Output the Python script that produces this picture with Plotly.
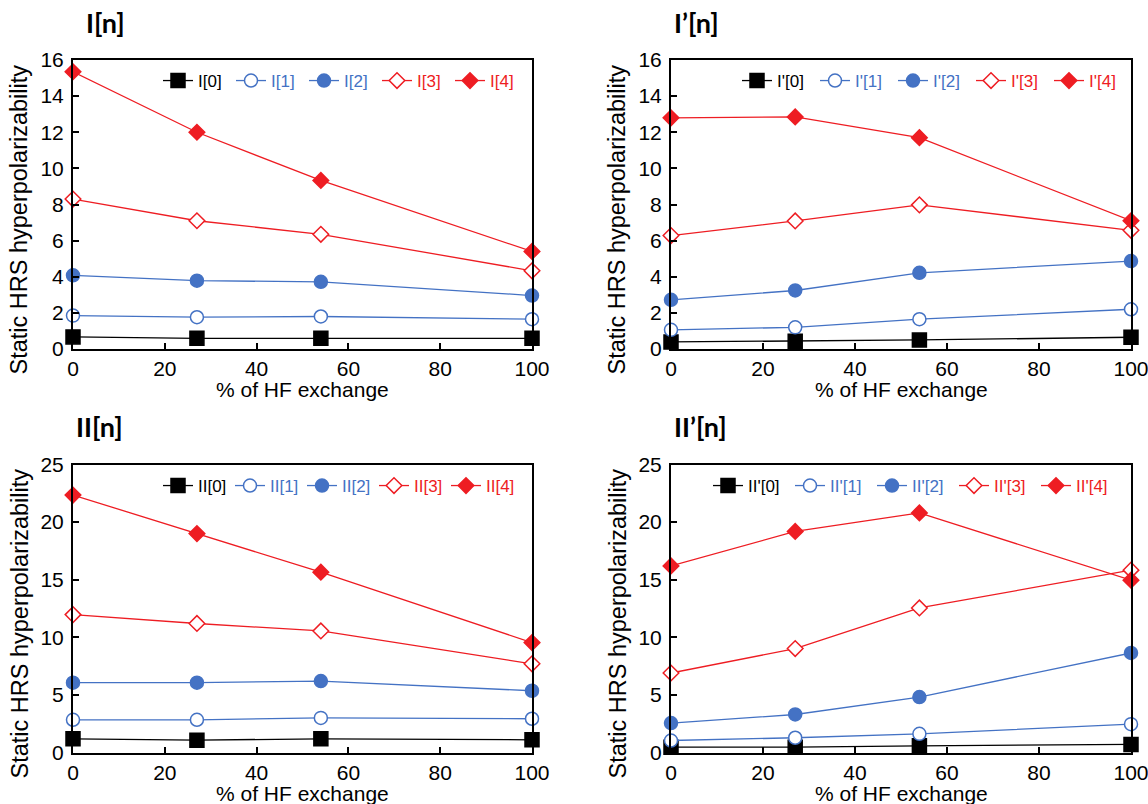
import plotly.graph_objects as go

# -----------------------
# Data
# -----------------------
hf_exchange = [0, 27, 54, 100]          # % of HF exchange (M06-L, M06, M06-2X, M06-HF)
x_ticks = [0, 20, 40, 60, 80, 100]

I_0 = [0.67, 0.59, 0.59, 0.59]
I_1 = [1.85, 1.76, 1.80, 1.65]
I_2 = [4.08, 3.78, 3.72, 2.96]
I_3 = [8.30, 7.10, 6.35, 4.33]
I_4 = [15.35, 12.00, 9.33, 5.40]

Ip_0 = [0.39, 0.43, 0.50, 0.65]
Ip_1 = [1.06, 1.20, 1.65, 2.20]
Ip_2 = [2.72, 3.24, 4.22, 4.87]
Ip_3 = [6.28, 7.09, 7.98, 6.57]
Ip_4 = [12.80, 12.85, 11.70, 7.10]

II_0 = [1.19, 1.07, 1.19, 1.10]
II_1 = [2.84, 2.84, 3.00, 2.93]
II_2 = [6.06, 6.06, 6.20, 5.36]
II_3 = [11.97, 11.20, 10.55, 7.70]
II_4 = [22.35, 19.00, 15.65, 9.54]

IIp_0 = [0.46, 0.46, 0.58, 0.70]
IIp_1 = [1.04, 1.28, 1.62, 2.46]
IIp_2 = [2.55, 3.30, 4.81, 8.64]
IIp_3 = [6.90, 9.02, 12.55, 15.83]
IIp_4 = [16.20, 19.19, 20.80, 14.96]

panel_titles = ["I[n]", "I\u2019[n]", "II[n]", "II\u2019[n]"]
legend_prefix = ["I", "I'", "II", "II'"]
panel_series = [
    [I_0, I_1, I_2, I_3, I_4],
    [Ip_0, Ip_1, Ip_2, Ip_3, Ip_4],
    [II_0, II_1, II_2, II_3, II_4],
    [IIp_0, IIp_1, IIp_2, IIp_3, IIp_4],
]
y_max = [16, 16, 25, 25]
y_dtick = [2, 2, 5, 5]

# -----------------------
# Layout config
# -----------------------
W, H = 1148, 804
FONT = "Liberation Sans, Arial, sans-serif"
BLACK, BLUE, RED, WHITE = "#000000", "#4472C4", "#EE1D23", "#FFFFFF"

# symbol, fill, edge, size  (n = 0..4)
styles = [
    ("square", BLACK, BLACK, 14),
    ("circle", WHITE, BLUE, 13),
    ("circle", BLUE, BLUE, 13),
    ("diamond", WHITE, RED, 12),
    ("diamond", RED, RED, 12),
]

# plot boxes in page pixels: left, right, top, bottom
boxes = [
    (73, 532, 60, 349),
    (671, 1131, 60, 349),
    (73, 532, 464.5, 752.5),
    (671, 1131, 464.5, 752.5),
]
legend_left = [163, 742, 163, 713]
legend_step = [73, 78, 72, 82]           # spacing of legend entries (px)
legend_cy = [81, 81, 486, 486]
title_left = [84, 672, 74, 672]


def px_x(p):
    return p / W


def px_y(p):
    return 1 - p / H


fig = go.Figure()
layout = dict(
    width=W, height=H,
    margin=dict(l=0, r=0, t=0, b=0),
    paper_bgcolor="white", plot_bgcolor="white",
    font=dict(family=FONT, size=20, color="black"),
    showlegend=True,
    annotations=[],
)

for k in range(4):
    sfx = "" if k == 0 else str(k + 1)
    xa, ya = "x" + sfx, "y" + sfx
    leg = "legend" + sfx
    l, r, t, b = boxes[k]

    for n, vals in enumerate(panel_series[k]):
        sym, fill, edge, size = styles[n]
        line_col = BLACK if n == 0 else (BLUE if n < 3 else RED)
        fig.add_trace(go.Scatter(
            x=hf_exchange, y=vals,
            xaxis=xa, yaxis=ya, legend=leg,
            mode="lines+markers",
            name=f"<span style='color:{line_col}'>{legend_prefix[k]}[{n}]</span>",
            line=dict(color=line_col, width=1.3),
            marker=dict(symbol=sym, size=size, color=fill,
                        line=dict(color=edge, width=1.5)),
            cliponaxis=False,
        ))

    axis_common = dict(
        showline=True, linecolor="black", linewidth=2, mirror=True,
        ticks="inside", ticklen=6, tickwidth=1.5, tickcolor="black",
        showgrid=False, zeroline=False, automargin=False,
        ticklabeloverflow="allow",
        tickfont=dict(family=FONT, size=21, color="black"),
    )
    layout["xaxis" + sfx] = dict(
        axis_common, domain=[px_x(l), px_x(r)], anchor=ya,
        range=[0, 100], tickvals=x_ticks,
    )
    layout["yaxis" + sfx] = dict(
        axis_common, domain=[px_y(b), px_y(t)], anchor=xa,
        range=[0, y_max[k]], dtick=y_dtick[k], tick0=0,
        ticklabelstandoff=3,
    )
    layout[leg] = dict(
        orientation="h", x=px_x(legend_left[k] - 5), xanchor="left",
        y=px_y(legend_cy[k]), yanchor="middle",
        bgcolor="rgba(0,0,0,0)", borderwidth=0,
        entrywidth=legend_step[k] - 45, entrywidthmode="pixels",
        font=dict(family=FONT, size=17),
    )

    # panel title
    layout["annotations"].append(dict(
        text=f"<b>{panel_titles[k]}</b>", xref="paper", yref="paper",
        x=px_x(title_left[k]), y=px_y(t - 38), xanchor="left", yanchor="middle",
        showarrow=False, font=dict(family="Lato, Open Sans, sans-serif", size=27, color="black"),
    ))
    # x-axis title
    layout["annotations"].append(dict(
        text="% of HF exchange", xref="paper", yref="paper",
        x=px_x((l + r) / 2), y=px_y(b + 41), xanchor="center", yanchor="middle",
        showarrow=False, font=dict(family=FONT, size=21, color="black"),
    ))
    # y-axis title
    layout["annotations"].append(dict(
        text="Static HRS hyperpolarizability", xref="paper", yref="paper",
        x=px_x(l - 54), y=px_y((t + b) / 2 + 15), xanchor="center", yanchor="middle",
        textangle=-90, showarrow=False, font=dict(family=FONT, size=23.5, color="black"),
    ))

fig.update_layout(layout)
# page body has a default 8px margin; drop it so the figure fills the window
fig.write_html("out.html", config={"displayModeBar": False},
               post_script="document.body.style.margin='0';")
